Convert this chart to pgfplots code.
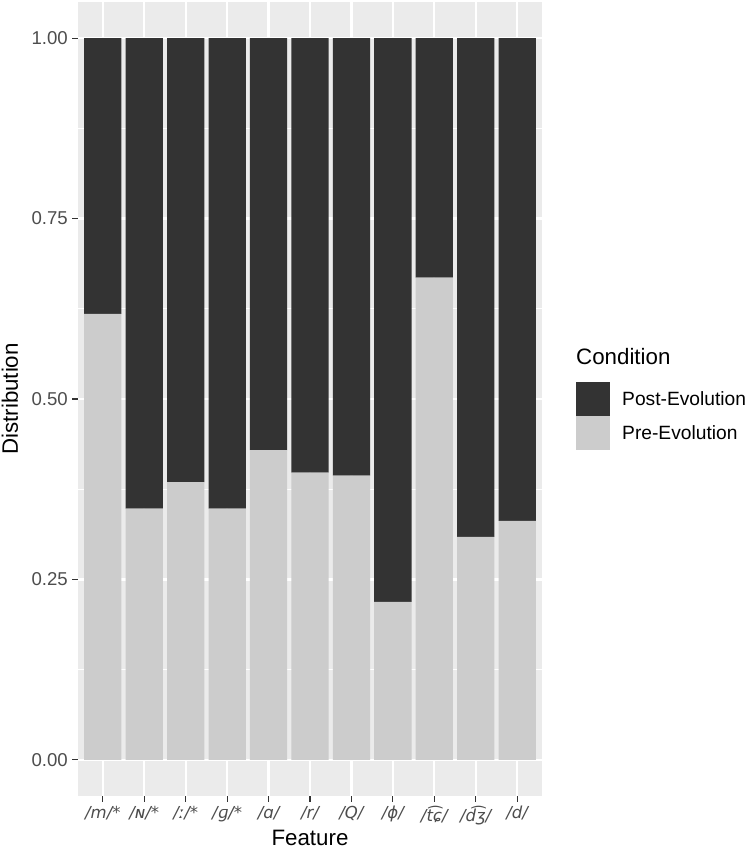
\documentclass[border=0pt]{standalone}
\usepackage{fontspec}
\setmainfont{Liberation Sans}
\newfontfamily\ipa{DejaVu Sans}
\usepackage{pgfplots}
\usepackage{pgfplotstable}
\pgfplotsset{compat=1.18}
\definecolor{panel}{HTML}{EBEBEB}
\definecolor{postc}{HTML}{333333}
\definecolor{prec}{HTML}{CCCCCC}
\definecolor{tickc}{HTML}{4D4D4D}
\definecolor{tickm}{HTML}{333333}

\pgfplotstableread{
x pre post
0  0.618 0.382
1  0.348 0.652
2  0.385 0.615
3  0.348 0.652
4  0.429 0.571
5  0.398 0.602
6  0.394 0.606
7  0.219 0.781
8  0.668 0.332
9  0.309 0.691
10 0.331 0.669
}\datatable

\begin{document}
\begin{tikzpicture}
\path[use as bounding box] (-78pt,-56pt) rectangle (672pt,796pt);
\begin{axis}[
  at={(0pt,0pt)}, anchor=south west,
  scale only axis, width=464pt, height=794pt,
  xmin=-0.6, xmax=10.6, ymin=-0.05, ymax=1.05,
  ybar stacked, bar width=0.9,
  axis background/.style={fill=panel},
  axis line style={draw=none},
  xtick={0,...,10},
  xticklabels={{/m/*},{/ɴ/*},{/ː/*},{/ɡ/*},{/ɑ/},{/r/},{/Q/},{/ɸ/},{/t͡ɕ/},{/d͡ʒ/},{/d/}},
  ytick={0,0.25,0.5,0.75,1},
  minor ytick={0.125,0.375,0.625,0.875},
  xmajorgrids, ymajorgrids, yminorgrids,
  major grid style={white, line width=2.2pt},
  minor grid style={white, line width=1.1pt},
  tick align=outside, tick pos=left,
  major tick length=5.6pt, minor tick length=0pt,
  every tick/.style={tickm, line width=1.1pt},
  yticklabel style={font=\fontsize{18.6}{20}\selectfont, text=tickc, inner sep=0pt, xshift=-4.4pt,
    /pgf/number format/.cd, fixed, fixed zerofill, precision=2, assume math mode=true},
  xticklabel style={font=\ipa\itshape\fontsize{16.5}{20}\selectfont, text=tickc, inner sep=0pt, yshift=-4.4pt},
  xlabel={Feature}, ylabel={Distribution},
  xlabel style={font=\fontsize{22.3}{26}\selectfont, at={(0.5,-0.0529)}, anchor=center},
  ylabel style={font=\fontsize{22.3}{26}\selectfont, at={(-0.1466,0.5)}, anchor=center},
  reverse legend,
  legend style={at={(1.0733,0.5215)}, anchor=north west, draw=none, fill=none,
    inner sep=0pt, row sep=0pt, font=\fontsize{19.2}{21}\selectfont,
    nodes={inner sep=0pt}},
  legend cell align=left,
  sqlegend/.style={legend image code/.code={\fill[##1,draw=none] (0pt,-17pt) rectangle (34pt,17pt); \path (46pt,0pt);}},
  clip=false,
]
\addplot[fill=prec, draw=none, sqlegend] table[x=x, y=pre] {\datatable};
\addlegendentry{Pre-Evolution}
\addplot[fill=postc, draw=none, sqlegend] table[x=x, y=post] {\datatable};
\addlegendentry{Post-Evolution}
\node[anchor=west, inner sep=0pt, font=\fontsize{22.3}{26}\selectfont] at (rel axis cs:1.0733,0.5529) {Condition};
\end{axis}
\end{tikzpicture}
\end{document}
